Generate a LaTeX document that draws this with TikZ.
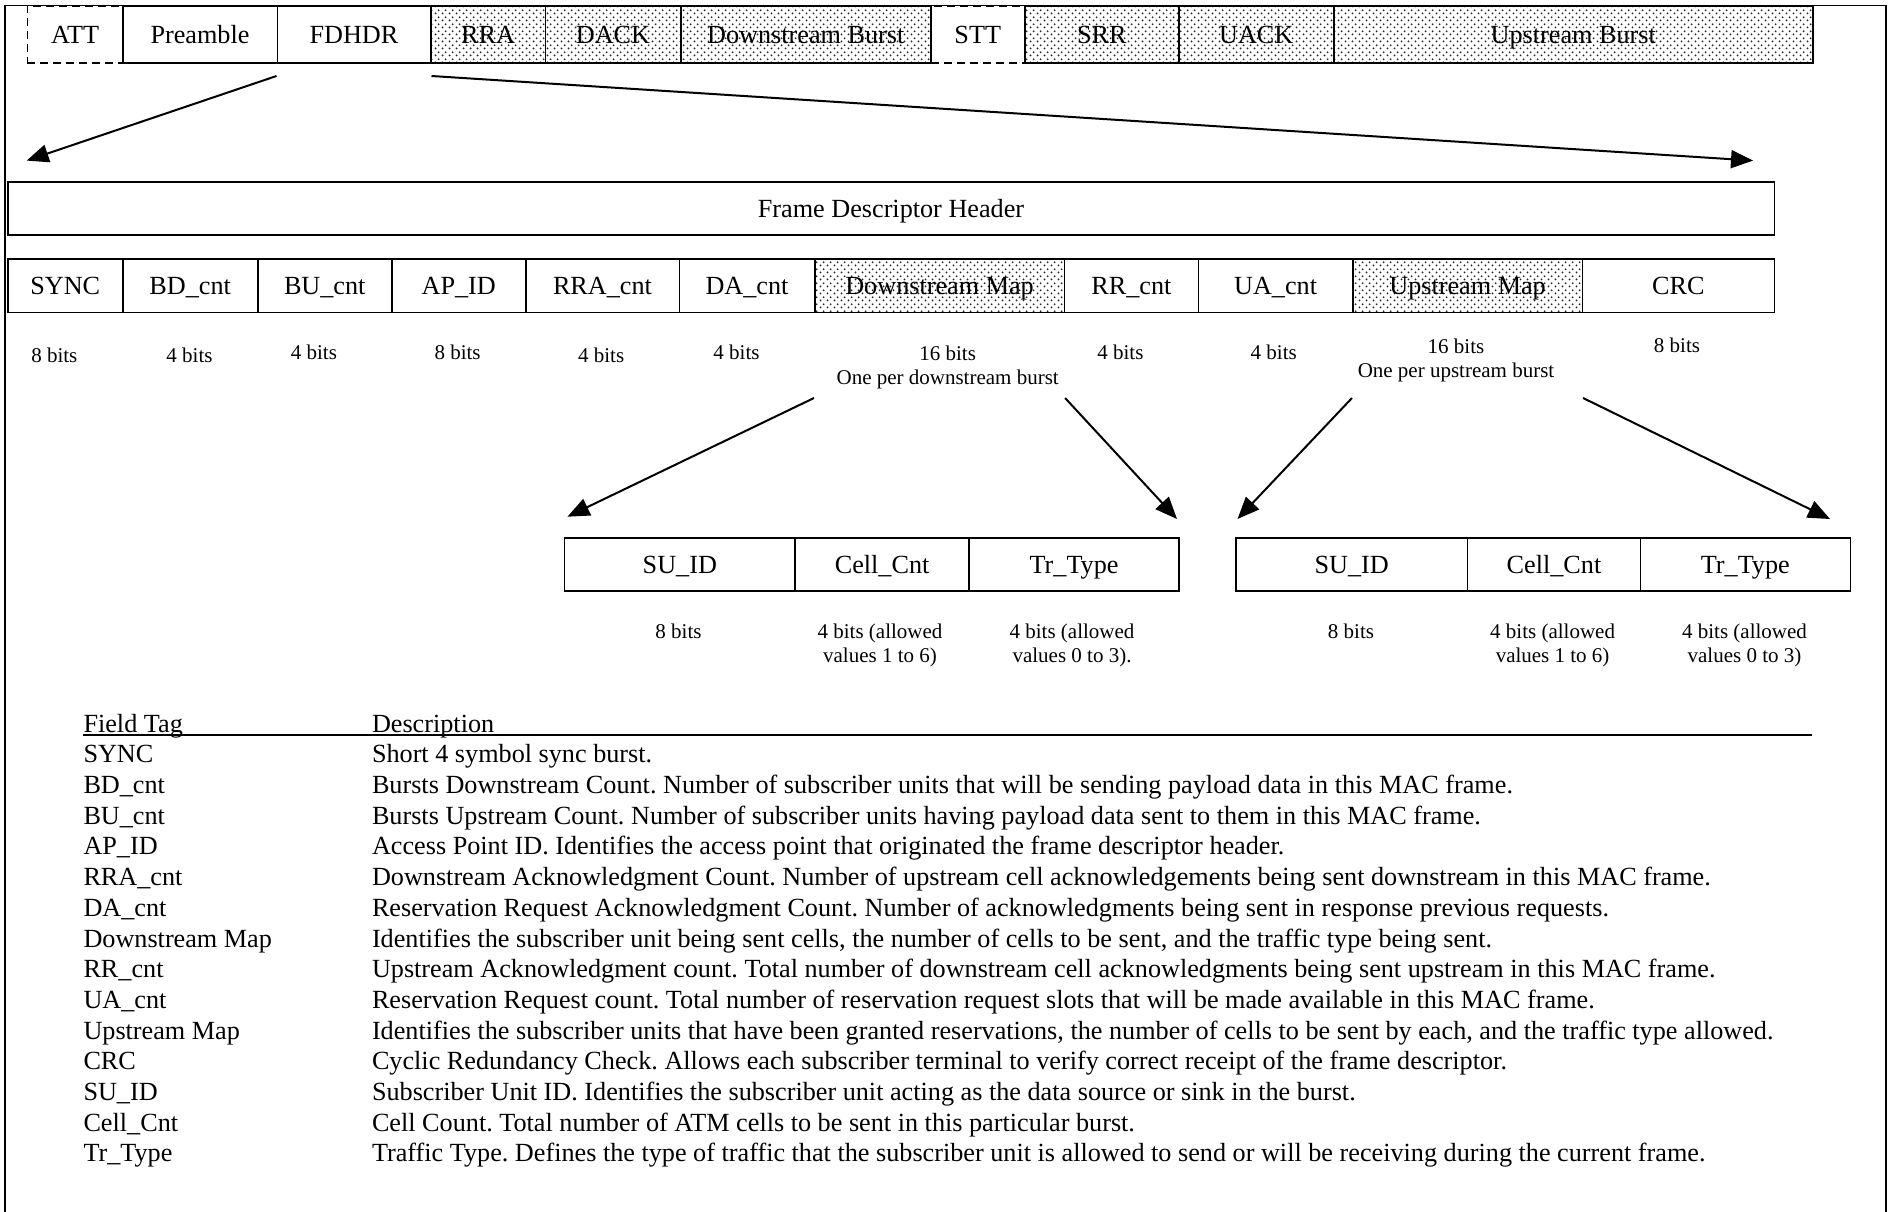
\documentclass[tikz,border=0pt]{standalone}
\usepackage{fontspec}
\setmainfont{Liberation Serif}
\usetikzlibrary{arrows.meta,patterns.meta,calc}
\frenchspacing
\newcommand\bigf{\fontsize{26.2}{31}\selectfont}
\newcommand\smallf{\fontsize{21}{24}\selectfont}
\tikzdeclarepattern{
  name=sdots,
  type=uncolored,
  bottom left={(0pt,0pt)},
  top right={(7pt,7pt)},
  tile size={(7pt,7pt)},
  code={
    \pgfpathcircle{\pgfpoint{1.75pt}{1.75pt}}{1.15pt}
    \pgfpathcircle{\pgfpoint{5.25pt}{5.25pt}}{1.15pt}
    \pgfusepath{fill}
  }
}
\tikzset{
  box/.style={draw, line width=1.5pt, fill=white, inner sep=0pt, anchor=north west,
    font=\bigf, text height=20pt, text depth=1.5pt},
  dbox/.style={box, dash pattern=on 8pt off 5pt},
  pbox/.style={box, fill=none, preaction={fill=white}, pattern=sdots, pattern color=black!85},
  lbl/.style={font=\smallf, align=center, inner sep=0pt},
  arr/.style={line width=2pt, -{Triangle[length=22pt,width=18pt]}},
  row/.style={font=\bigf, anchor=base west, inner sep=0pt},
}
\begin{document}
\begin{tikzpicture}[x=1pt,y=-1pt]
\useasboundingbox (0,0) rectangle (1893,1212);
% outer frame (open at the bottom)
\draw[line width=1.5pt] (5,1214) -- (5,5.5) -- (1886,5.5) -- (1886,1214);

% top row
\node[dbox, minimum width=95.4pt, minimum height=57pt] (att) at (26.6,5.5) {ATT};
\node[dbox, minimum width=94pt, minimum height=57pt] (stt) at (930,5.5) {STT};
\node[box, minimum width=154.5pt, minimum height=57pt] (pre) at (122,5.5) {Preamble};
\node[box, minimum width=153.5pt, minimum height=57pt] (fdhdr) at (276.5,5.5) {FDHDR};
\node[pbox, minimum width=114.5pt, minimum height=57pt] (rra) at (430,5.5) {RRA};
\node[pbox, minimum width=135.5pt, minimum height=57pt] (dack) at (544.5,5.5) {DACK};
\node[pbox, minimum width=250pt, minimum height=57pt] (dburst) at (680,5.5) {Downstream Burst};
\node[pbox, minimum width=154pt, minimum height=57pt] (srr) at (1024,5.5) {SRR};
\node[pbox, minimum width=155pt, minimum height=57pt] (uack) at (1178,5.5) {UACK};
\node[pbox, minimum width=479pt, minimum height=57pt] (uburst) at (1333,5.5) {Upstream Burst};

% arrows from FDHDR
\coordinate (a1s) at ($(fdhdr.south west)+(0,12)$);
\coordinate (a1e) at (26.6,160.6);
\coordinate (a2s) at ($(fdhdr.south east)+(0,12)$);
\coordinate (a2e) at (1753,160.6);
\draw[arr] (a1s) -- (a1e);
\draw[arr] (a2s) -- (a2e);

% header box
\node[box, minimum width=1766.5pt, minimum height=53pt] (hdr) at (7,181) {Frame Descriptor Header};

% field row
\node[box, minimum width=115pt, minimum height=53.5pt] (sync) at (7,258) {SYNC};
\node[box, minimum width=135pt, minimum height=53.5pt] (bd) at (122,258) {BD\_cnt};
\node[box, minimum width=134pt, minimum height=53.5pt] (bu) at (257,258) {BU\_cnt};
\node[box, minimum width=134pt, minimum height=53.5pt] (ap) at (391,258) {AP\_ID};
\node[box, minimum width=153.5pt, minimum height=53.5pt] (rracnt) at (525,258) {RRA\_cnt};
\node[box, minimum width=135.5pt, minimum height=53.5pt] (da) at (678.5,258) {DA\_cnt};
\node[pbox, minimum width=249.6pt, minimum height=53.5pt] (dmap) at (814,258) {Downstream Map};
\node[box, minimum width=134pt, minimum height=53.5pt] (rr) at (1063.6,258) {RR\_cnt};
\node[box, minimum width=154.4pt, minimum height=53.5pt] (ua) at (1197.6,258) {UA\_cnt};
\node[pbox, minimum width=229.6pt, minimum height=53.5pt] (umap) at (1352,258) {Upstream Map};
\node[box, minimum width=191.9pt, minimum height=53.5pt] (crc) at (1581.6,258) {CRC};

% bit labels
\node[lbl] (b1) at (54.3,355.2) {8 bits};
\node[lbl] (b2) at (189.5,355.2) {4 bits};
\node[lbl] (b3) at (313.9,352.8) {4 bits};
\node[lbl] (b4) at (457.6,352.8) {8 bits};
\node[lbl] (b5) at (601.2,355.2) {4 bits};
\node[lbl] (b6) at (736.5,352.8) {4 bits};
\node[lbl] (b7) at (947.7,367) {16 bits\\One per downstream burst};
\node[lbl] (b8) at (1120.4,352.8) {4 bits};
\node[lbl] (b9) at (1273.7,352.8) {4 bits};
\node[lbl] (b10) at (1456,360.5) {16 bits\\One per upstream burst};
\node[lbl] (b11) at (1677,345.5) {8 bits};

% map arrows
\coordinate (dls) at ($(dmap.south west)+(0,85)$);
\coordinate (dle) at (567.4,516.7);
\coordinate (drs) at ($(dmap.south east)+(0,85)$);
\coordinate (dre) at (1177,519);
\coordinate (uls) at ($(umap.south west)+(0,85)$);
\coordinate (ule) at (1237.5,519);
\coordinate (urs) at ($(umap.south east)+(0,85)$);
\coordinate (ure) at (1830,519);
\draw[arr] (dls) -- (dle);
\draw[arr] (drs) -- (dre);
\draw[arr] (uls) -- (ule);
\draw[arr] (urs) -- (ure);

% sub boxes
\node[box, minimum width=230.6pt, minimum height=53.4pt] (su1) at (563.8,537) {SU\_ID};
\node[box, minimum width=173.9pt, minimum height=53.4pt] (cc1) at (794.4,537) {Cell\_Cnt};
\node[box, minimum width=210pt, minimum height=53.4pt] (tt1) at (968.3,537) {Tr\_Type};
\node[box, minimum width=231.9pt, minimum height=53.4pt] (su2) at (1235,537) {SU\_ID};
\node[box, minimum width=172.6pt, minimum height=53.4pt] (cc2) at (1466.9,537) {Cell\_Cnt};
\node[box, minimum width=210.1pt, minimum height=53.4pt] (tt2) at (1639.5,537) {Tr\_Type};

% sub labels
\node[lbl] (s1) at (678.5,631.7) {8 bits};
\node[lbl] (s2) at (880,645) {4 bits (allowed\\values 1 to 6)};
\node[lbl] (s3) at (1072,645) {4 bits (allowed\\values 0 to 3).};
\node[lbl] (s4) at (1351,631.7) {8 bits};
\node[lbl] (s5) at (1552.6,645) {4 bits (allowed\\values 1 to 6)};
\node[lbl] (s6) at (1744.5,645) {4 bits (allowed\\values 0 to 3)};

% table
\node[row] (th1) at (83.3,732.5) {Field Tag};
\node[row] (th2) at (371.8,732.5) {Description};
\draw[line width=1.5pt] (83.3,735) -- (1812,735);

\node[row] (t1) at (83.3,762.8) {SYNC};
\node[row] (d1) at (371.8,762.8) {Short 4 symbol sync burst.};
\node[row] (t2) at (83.3,793.5) {BD\_cnt};
\node[row] (d2) at (371.8,793.5) {Bursts Downstream Count. Number of subscriber units that will be sending payload data in this MAC frame.};
\node[row] (t3) at (83.3,824.2) {BU\_cnt};
\node[row] (d3) at (371.8,824.2) {Bursts Upstream Count. Number of subscriber units having payload data sent to them in this MAC frame.};
\node[row] (t4) at (83.3,854.9) {AP\_ID};
\node[row] (d4) at (371.8,854.9) {Access Point ID. Identifies the access point that originated the frame descriptor header.};
\node[row] (t5) at (83.3,885.6) {RRA\_cnt};
\node[row] (d5) at (371.8,885.6) {Downstream Acknowledgment Count. Number of upstream cell acknowledgements being sent downstream in this MAC frame.};
\node[row] (t6) at (83.3,916.3) {DA\_cnt};
\node[row] (d6) at (371.8,916.3) {Reservation Request Acknowledgment Count. Number of acknowledgments being sent in response previous requests.};
\node[row] (t7) at (83.3,947.0) {Downstream Map};
\node[row] (d7) at (371.8,947.0) {Identifies the subscriber unit being sent cells, the number of cells to be sent, and the traffic type being sent.};
\node[row] (t8) at (83.3,977.7) {RR\_cnt};
\node[row] (d8) at (371.8,977.7) {Upstream Acknowledgment count. Total number of downstream cell acknowledgments being sent upstream in this MAC frame.};
\node[row] (t9) at (83.3,1008.4) {UA\_cnt};
\node[row] (d9) at (371.8,1008.4) {Reservation Request count. Total number of reservation request slots that will be made available in this MAC frame.};
\node[row] (t10) at (83.3,1039.1) {Upstream Map};
\node[row] (d10) at (371.8,1039.1) {Identifies the subscriber units that have been granted reservations, the number of cells to be sent by each, and the traffic type allowed.};
\node[row] (t11) at (83.3,1069.8) {CRC};
\node[row] (d11) at (371.8,1069.8) {Cyclic Redundancy Check. Allows each subscriber terminal to verify correct receipt of the frame descriptor.};
\node[row] (t12) at (83.3,1100.5) {SU\_ID};
\node[row] (d12) at (371.8,1100.5) {Subscriber Unit ID. Identifies the subscriber unit acting as the data source or sink in the burst.};
\node[row] (t13) at (83.3,1131.2) {Cell\_Cnt};
\node[row] (d13) at (371.8,1131.2) {Cell Count. Total number of ATM cells to be sent in this particular burst.};
\node[row] (t14) at (83.3,1161.9) {Tr\_Type};
\node[row] (d14) at (371.8,1161.9) {Traffic Type. Defines the type of traffic that the subscriber unit is allowed to send or will be receiving during the current frame.};
\end{tikzpicture}
\end{document}
